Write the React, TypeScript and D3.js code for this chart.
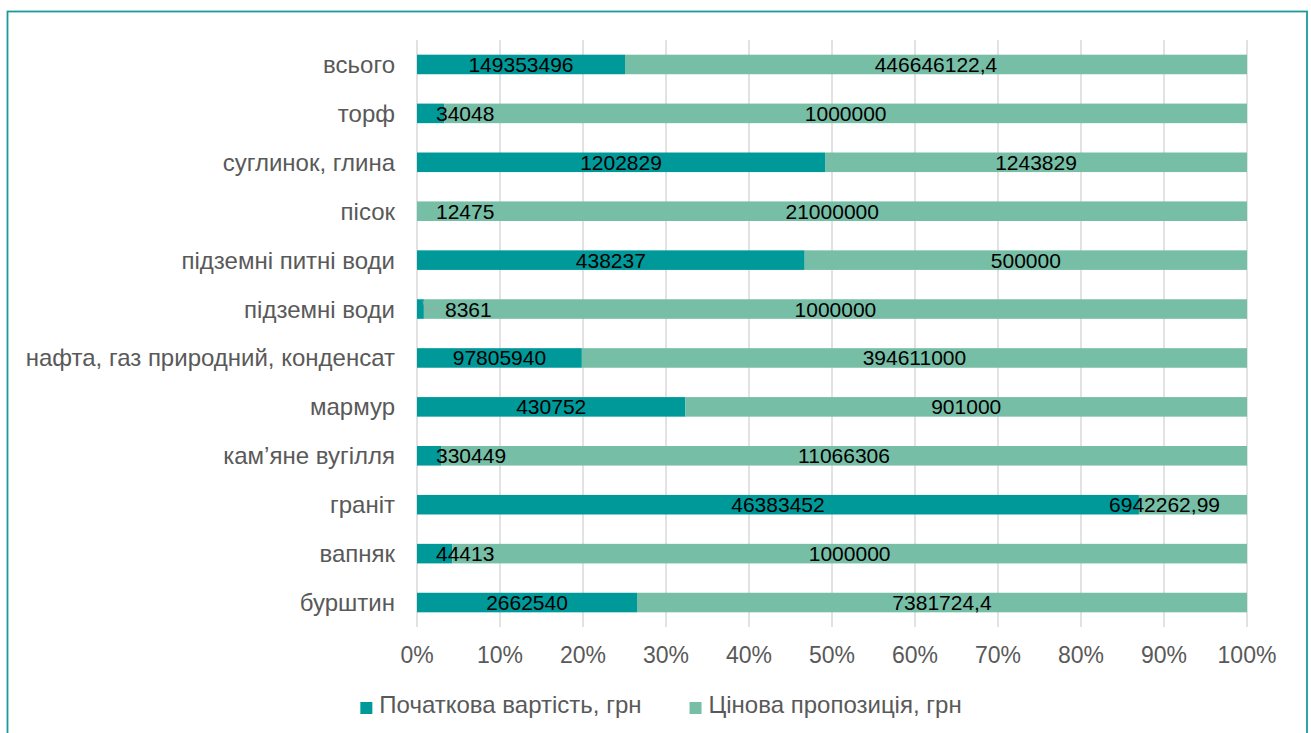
import React, { useEffect, useRef } from "react";
import * as d3 from "d3";

const categories = [
  "всього",
  "торф",
  "суглинок, глина",
  "пісок",
  "підземні питні води",
  "підземні води",
  "нафта, газ природний, конденсат",
  "мармур",
  "кам’яне вугілля",
  "граніт",
  "вапняк",
  "бурштин",
];

const initialValue = [
  149353496, 34048, 1202829, 12475, 438237, 8361, 97805940, 430752, 330449,
  46383452, 44413, 2662540,
];

const priceOffer = [
  446646122.4, 1000000, 1243829, 21000000, 500000, 1000000, 394611000, 901000,
  11066306, 6942262.99, 1000000, 7381724.4,
];

const seriesNames = ["Початкова вартість, грн", "Цінова пропозиція, грн"];
const seriesColors = ["#009999", "#77BEA6"];
const ticks = [0, 0.1, 0.2, 0.3, 0.4, 0.5, 0.6, 0.7, 0.8, 0.9, 1];

const W = 1311;
const H = 733;
const FONT = "'Liberation Sans', Arial, sans-serif";
const GRAY = "#595959";

export default function App() {
  const ref = useRef<SVGSVGElement | null>(null);

  useEffect(() => {
    const svg = d3.select(ref.current);
    svg.selectAll("*").remove();

    const x0 = 417,
      x1 = 1247,
      yTop = 40,
      yBot = 627;

    const x = d3.scaleLinear().domain([0, 1]).range([x0, x1]);
    const y = d3
      .scaleBand<string>()
      .domain(categories)
      .range([yTop, yBot])
      .paddingInner(0.6)
      .paddingOuter(0.3);

    // frame
    svg
      .append("rect")
      .attr("x", 7.5)
      .attr("y", 11.5)
      .attr("width", 1299.5)
      .attr("height", 740)
      .attr("fill", "#fff")
      .attr("stroke", "#1A9A9A")
      .attr("stroke-width", 1.8);

    // gridlines
    svg
      .append("g")
      .selectAll("line")
      .data(ticks)
      .join("line")
      .attr("x1", (d) => x(d))
      .attr("x2", (d) => x(d))
      .attr("y1", yTop)
      .attr("y2", yBot)
      .attr("stroke", "#D9D9D9")
      .attr("stroke-width", 1.5);

    // tick labels
    svg
      .append("g")
      .selectAll("text")
      .data(ticks)
      .join("text")
      .attr("x", (d) => x(d))
      .attr("y", 663)
      .attr("text-anchor", "middle")
      .attr("font-family", FONT)
      .attr("font-size", 23)
      .attr("fill", GRAY)
      .text((d) => d3.format(".0%")(d));

    const rows = categories.map((c, i) => {
      const total = initialValue[i] + priceOffer[i];
      const p0 = initialValue[i] / total;
      return {
        c,
        segs: [
          { s: 0, v: initialValue[i], a: 0, b: p0 },
          { s: 1, v: priceOffer[i], a: p0, b: 1 },
        ],
      };
    });

    const bh = y.bandwidth();

    // bars
    const gBars = svg.append("g");
    rows.forEach((r) => {
      gBars
        .selectAll(null)
        .data(r.segs)
        .join("rect")
        .attr("x", (d) => x(d.a))
        .attr("width", (d) => Math.max(0, x(d.b) - x(d.a)))
        .attr("y", y(r.c)!)
        .attr("height", bh)
        .attr("fill", (d) => seriesColors[d.s]);
    });

    // category labels
    svg
      .append("g")
      .selectAll("text")
      .data(categories)
      .join("text")
      .attr("x", 395)
      .attr("y", (d) => y(d)! + bh / 2 + 8.5)
      .attr("text-anchor", "end")
      .attr("font-family", FONT)
      .attr("font-size", 24)
      .attr("fill", GRAY)
      .text((d) => d);

    // data labels
    const fmt = (v: number) => String(v).replace(".", ",");
    const gLab = svg.append("g");
    rows.forEach((r) => {
      r.segs.forEach((sg) => {
        const t = gLab
          .append("text")
          .attr("y", y(r.c)! + bh / 2 + 7.5)
          .attr("text-anchor", "middle")
          .attr("font-family", FONT)
          .attr("font-size", 21)
          .attr("fill", "#000")
          .text(fmt(sg.v));
        const w = (t.node() as SVGTextElement).getComputedTextLength();
        const segW = x(sg.b) - x(sg.a);
        let cx = (x(sg.a) + x(sg.b)) / 2;
        const minLeft = x0 + 19;
        if (cx - w / 2 < minLeft) {
          // tiny segments whose labels get pushed off with a leader line
          const useLeader = segW > 3 && segW < 8;
          const left = useLeader ? x0 + 28 : minLeft;
          cx = left + w / 2;
          if (useLeader) {
            const cy = y(r.c)! + bh / 2;
            gLab
              .append("polyline")
              .attr(
                "points",
                `${x(sg.b) - 1},${y(r.c)! + 2} ${x(sg.b) + 2},${cy} ${left - 6},${cy}`
              )
              .attr("fill", "none")
              .attr("stroke", "#A6A6A6")
              .attr("stroke-width", 1);
          }
        }
        cx = Math.min(cx, x1 - 27 - w / 2);
        t.attr("x", cx);
      });
    });

    // legend
    const gLeg = svg.append("g");
    const items = seriesNames.map((n, i) => {
      const t = gLeg
        .append("text")
        .attr("y", 713)
        .attr("font-family", FONT)
        .attr("font-size", 24)
        .attr("fill", GRAY)
        .text(n);
      const w = (t.node() as SVGTextElement).getComputedTextLength();
      return { t, w, i };
    });
    const sq = 12,
      gapSq = 7,
      gapItem = 48;
    const total =
      items.reduce((acc, it) => acc + sq + gapSq + it.w, 0) +
      gapItem * (items.length - 1);
    let cur = 661 - total / 2;
    items.forEach((it) => {
      gLeg
        .append("rect")
        .attr("x", cur)
        .attr("y", 702)
        .attr("width", sq)
        .attr("height", sq)
        .attr("fill", seriesColors[it.i]);
      it.t.attr("x", cur + sq + gapSq);
      cur += sq + gapSq + it.w + gapItem;
    });
  }, []);

  return (
    <div style={{ position: "absolute", left: 0, top: 0 }}>
      <svg ref={ref} width={W} height={H} style={{ display: "block" }} />
    </div>
  );
}
